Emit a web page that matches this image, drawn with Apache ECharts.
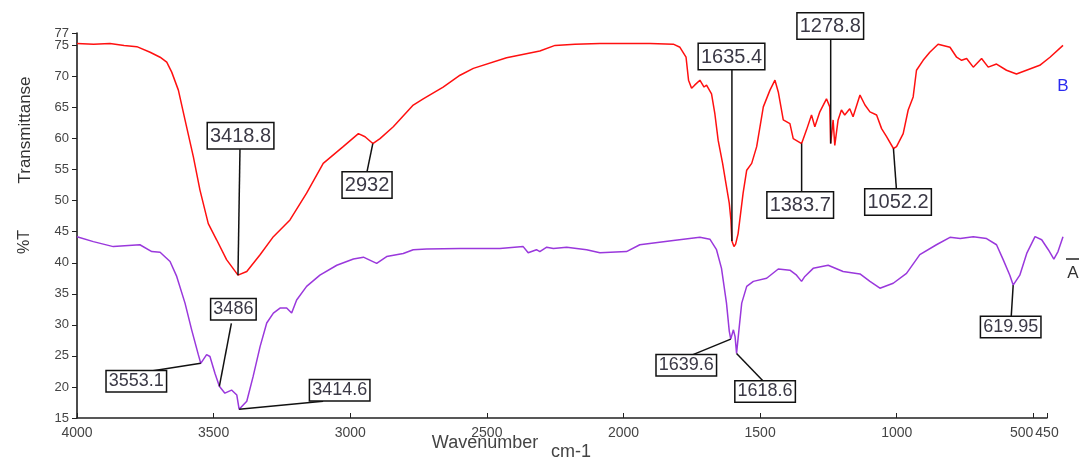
<!DOCTYPE html>
<html><head><meta charset="utf-8">
<script src="https://cdn.jsdelivr.net/npm/echarts@6/dist/echarts.min.js"></script>
<style>html,body{margin:0;padding:0;background:#fff}#c{width:1079px;height:457px}</style>
</head><body><div id="c"></div>
<script>
// ---- data ----
const redWave = [4000,3940,3881,3830,3784,3736,3700,3676,3658,3634,3610,3580,3556,3526,3496,3460,3418.8,3387,3339,3291,3231,3171,3111,3039,2984,2960,2932,2906,2858,2786,2750,2678,2617,2569,2449,2329,2274,2202,2112,2000,1931,1847,1823,1801,1792,1781,1770,1751,1736,1727,1709,1697,1685,1669,1657,1645,1639,1635.4,1628,1622,1613,1595,1582,1564,1546,1522,1498,1480,1468,1450,1426,1414,1383.7,1366,1348,1336,1318,1294,1282,1278.8,1270,1264,1252,1240,1228,1210,1198,1173,1155,1137,1113,1095,1077,1052.2,1041,1017,999,981,969,945,921,891,848,824,806,788,764,734,710,680,644,608,572,524,487,440];
const redT = [75.3,75.2,75.3,75.0,74.8,73.9,73.1,72.3,70.7,67.8,63.0,57.1,51.7,46.3,43.7,40.5,38.0,38.6,41.3,44.2,46.9,51.2,56.0,58.7,60.8,60.3,59.2,60.0,61.9,65.4,66.4,68.3,70.2,71.3,73.0,74.1,75.0,75.2,75.3,75.3,75.3,75.2,74.7,73.1,69.4,68.1,68.6,69.4,68.3,68.6,67.2,64.0,59.7,56.0,52.8,49.6,46.9,43.5,42.6,43.0,44.7,51.2,54.9,56.0,58.7,65.1,67.8,69.4,67.5,63.0,62.4,60.0,59.2,61.4,63.8,61.9,64.3,66.4,65.1,59.2,63.0,58.9,63.0,64.6,63.8,64.8,63.5,67.0,65.4,64.3,63.8,61.6,60.3,58.4,58.7,60.8,64.6,66.7,71.0,72.6,73.9,75.2,74.7,73.1,72.6,72.9,71.5,72.9,71.5,72.0,71.0,70.4,71.0,71.8,73.1,75.0];
const purpleWave = [4000,3941,3869,3773,3730,3700,3664,3640,3610,3586,3562,3553.1,3532,3520,3502,3486,3466,3442,3423,3414.6,3387,3364,3339,3315,3291,3267,3243,3225,3207,3171,3123,3062,3002,2966,2918,2882,2822,2786,2738,2617,2473,2389,2371,2341,2329,2304,2280,2232,2160,2112,2016,1968,1847,1751,1715,1691,1673,1655,1645,1639.6,1630,1624,1618.6,1610,1600,1582,1558,1510,1468,1426,1402,1384,1372,1342,1288,1234,1173,1137,1101,1053,1005,957,897,848,811,764,716,680,656,632,619.95,596,571,541,517,493,473,458,440];
const purpleT = [44.2,43.4,42.6,42.9,41.8,41.7,40.2,37.8,33.5,29.2,25.2,23.8,25.2,24.9,22.2,20.1,19.0,19.5,18.7,16.4,17.7,21.7,26.5,30.3,31.9,32.7,32.7,31.9,34.0,36.2,38.0,39.6,40.6,40.9,39.9,41.0,41.5,42.1,42.2,42.3,42.3,42.6,41.6,42.1,41.8,42.5,42.3,42.5,42.1,41.6,41.8,42.9,43.6,44.1,43.8,42.1,39.1,33.5,29.0,27.7,29.2,28.1,25.4,29.2,33.5,36.2,37.0,37.5,39.0,38.8,38.0,37.0,37.8,39.1,39.6,38.6,38.2,37.0,35.9,36.7,38.3,41.3,42.9,44.1,43.9,44.2,43.9,42.9,40.5,38.0,36.4,38.0,41.5,44.2,43.7,42.1,40.6,41.8,44.2];
const xTickValues = [4000,3500,3000,2500,2000,1500,1000,500,450];
const xTickLabelsMain = [4000,3500,3000,2500,2000,1500,1000,450];
const xTickLabelsExtra = [500];
const yTickValues = [15,20,25,30,35,40,45,50,55,60,65,70,75,77];
const yTickLabelsMain = [15,20,25,30,35,40,45,50,55,60,65,70,75];
const yTickLabelsExtra = [77];
const annotText = ['3418.8','2932','1635.4','1278.8','1383.7','1052.2','3553.1','3486','3414.6','1639.6','1618.6','619.95'];
const annotWave = [3418.8,2932,1635.4,1278.8,1383.7,1052.2,3553.1,3486,3414.6,1639.6,1618.6,619.95];
const annotT = [38.0,59.2,43.5,59.2,59.2,58.4,23.8,20.1,16.4,27.7,25.4,36.4];
const annotGroup = ['B','B','B','B','B','B','A','A','A','A','A','A'];

// ---- layout of annotation boxes (pixel offsets from the peak tip) ----
const annotLayout = [
  [-30,-152, 2,-126],
  [-30, 29, -6, 29],
  [-33,-197, 0,-172],
  [-33,-130, 0,-104],
  [-34, 49, 0, 49],
  [-28, 41, 3, 41],
  [-94, 8, -51, 8],
  [-8,-87, 12,-63],
  [71,-29, 84,-8],
  [-74, 16, -39, 16],
  [-1, 28, 27, 28],
  [-32, 32, -2, 32]
];

const FONT = '"Liberation Sans", Arial, sans-serif';
const plain = v => String(v);
const chart = echarts.init(document.getElementById('c'), null, {renderer:'canvas'});

const gridBox = {top: 33, bottom: 39, containLabel: false};
chart.setOption({
  animation: false,
  backgroundColor: '#fff',
  grid: [
    Object.assign({left: 77, right: 16}, gridBox),
    Object.assign({left: 77, right: 32}, gridBox),
    Object.assign({left: 77, right: 32}, gridBox)
  ],
  xAxis: [
    {type:'value', gridIndex:0, min:440, max:4000, inverse:true, show:false},
    {type:'value', gridIndex:1, min:450, max:4000, inverse:true,
      axisLine:{show:true, onZero:false, lineStyle:{color:'#222', width:1.5}},
      axisTick:{show:true, inside:true, length:5, customValues:xTickValues, lineStyle:{color:'#222'}},
      axisLabel:{customValues:xTickLabelsMain, formatter:plain, showMinLabel:true, showMaxLabel:true, color:'#444', fontSize:14, fontFamily:FONT, margin:8},
      splitLine:{show:false}},
    {type:'value', gridIndex:2, min:450, max:4000, inverse:true,
      axisLine:{show:false, onZero:false}, axisTick:{show:false},
      axisLabel:{customValues:xTickLabelsExtra, formatter:plain, showMinLabel:true, showMaxLabel:true, color:'#444', fontSize:14, fontFamily:FONT, margin:8, align:'right'},
      splitLine:{show:false}}
  ],
  yAxis: [
    {type:'value', gridIndex:0, min:15, max:77,
      axisLine:{show:true, onZero:false, lineStyle:{color:'#111', width:1.5}},
      axisTick:{show:true, inside:false, length:5, customValues:yTickValues, lineStyle:{color:'#222'}},
      axisLabel:{customValues:yTickLabelsMain, formatter:plain, showMinLabel:true, showMaxLabel:true, color:'#444', fontSize:13, fontFamily:FONT, margin:8},
      splitLine:{show:false}},
    {type:'value', gridIndex:1, min:15, max:77, show:false},
    {type:'value', gridIndex:2, min:15, max:77,
      axisLine:{show:false, onZero:false}, axisTick:{show:false},
      axisLabel:{customValues:yTickLabelsExtra, formatter:plain, showMinLabel:true, showMaxLabel:true, color:'#444', fontSize:13, fontFamily:FONT, margin:8},
      splitLine:{show:false}}
  ],
  series: [
    {name:'B', type:'line', xAxisIndex:0, yAxisIndex:0, showSymbol:false, symbol:'none',
      lineStyle:{color:'#ff1010', width:1.5}, itemStyle:{color:'#ff1010'},
      data: redWave.map((w,i)=>[w, redT[i]])},
    {name:'A', type:'line', xAxisIndex:0, yAxisIndex:0, showSymbol:false, symbol:'none',
      lineStyle:{color:'#9a38dc', width:1.5}, itemStyle:{color:'#9a38dc'},
      data: purpleWave.map((w,i)=>[w, purpleT[i]])},
    {type:'custom', xAxisIndex:0, yAxisIndex:0, clip:false, z:5,
      data: annotWave.map((w,i)=>[w, annotT[i]]),
      renderItem: function(params, api){
        const i = params.dataIndex;
        const p = api.coord([api.value(0), api.value(1)]);
        const L = annotLayout[i];
        const big = annotGroup[i] === 'B';
        return {type:'group', children:[
          {type:'line', shape:{x1:p[0], y1:p[1], x2:p[0]+L[2], y2:p[1]+L[3]},
            style:{stroke:'#111', lineWidth:1.5}},
          {type:'text', x:p[0]+L[0], y:p[1]+L[1], z2:10,
            style:{text:annotText[i], fontSize: big?20:18, fontFamily:FONT, fill:'#3b3946',
              backgroundColor:'#fff', borderColor:'#111', borderWidth:1.5,
              padding: big?[3,2,2,2]:[1,2,1,2], align:'left', verticalAlign:'top'}}
        ]};
      }}
  ],
  graphic: [
    {type:'text', x:25, y:130, rotation:Math.PI/2, style:{text:'Transmittanse', fontSize:17, fontFamily:FONT, fill:'#333', align:'center', verticalAlign:'middle'}},
    {type:'text', x:25, y:242, rotation:Math.PI/2, style:{text:'%T', fontSize:16, fontFamily:FONT, fill:'#333', align:'center', verticalAlign:'middle'}},
    {type:'text', x:485, y:443, style:{text:'Wavenumber', fontSize:18, fontFamily:FONT, fill:'#444', align:'center', verticalAlign:'middle'}},
    {type:'text', x:571, y:452, style:{text:'cm-1', fontSize:18, fontFamily:FONT, fill:'#444', align:'center', verticalAlign:'middle'}},
    {type:'text', x:1063, y:86, style:{text:'B', fontSize:17, fontFamily:FONT, fill:'#2a2af0', align:'center', verticalAlign:'middle'}},
    {type:'text', x:1073, y:273, style:{text:'A', fontSize:17, fontFamily:FONT, fill:'#333', align:'center', verticalAlign:'middle'}},
    {type:'line', shape:{x1:1066, y1:259, x2:1079, y2:259}, style:{stroke:'#222', lineWidth:1.5}}
  ]
});
</script></body></html>
